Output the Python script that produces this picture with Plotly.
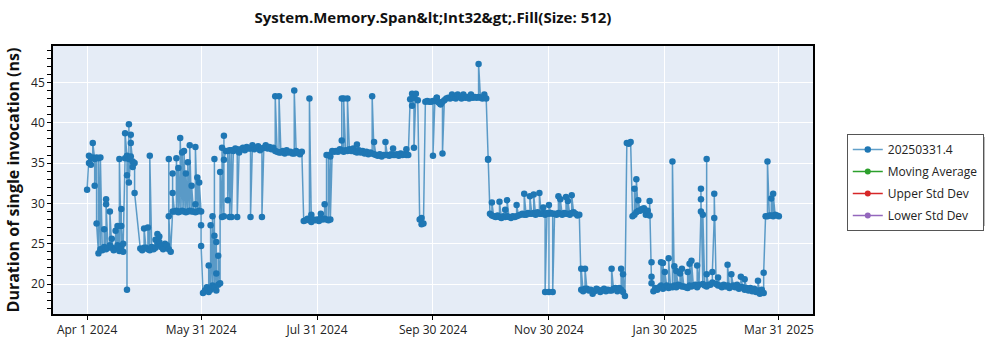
import pandas as pd
import plotly.graph_objects as go

# Daily baseline measurement, Apr 1 2024 .. Mar 31 2025 (None = no run that day)
start_date = "2024-04-01"
base_ns = [
    31.7, 35.9, 35.6, 35.7, 35.5, 35.7, 23.8, 24.3, 24.2, 24.6,
    24.3, 24.5, 24.8, 24.5, 24.2, 24.4, 24.8, 24.1, 24.6, 24.0,
    35.6, 35.9, 35.5, 35.8, 35.2, 35.0, None, None, 24.4, 24.2,
    24.5, 24.5, 24.3, 24.2, 24.6, 24.3, 24.5, 25.0, 25.2, 24.6,
    24.3, 25.0, 24.8, 24.3, 24.0, 29.0, 29.0, 29.1, 28.9, 29.0,
    29.1, 29.0, 28.9, 29.0, 29.1, 29.0, 29.0, 28.9, 29.0, 29.1,
    29.0, 18.9, 19.2, 19.6, 19.0, 19.3, 19.8, 19.5, 19.2, 19.9,
    20.1, 28.3, 28.4, 36.5, 36.5, 36.6, 36.6, 36.5, 36.8, 36.7,
    36.3, 36.7, 36.9, 36.6, 37.0, 36.8, 36.8, 37.2, 36.7, 36.9,
    37.1, 36.6, 36.8, 36.9, 37.2, 36.8, 37.0, 36.7, 36.9, 36.5,
    36.4, 36.3, 36.3, 36.5, 36.2, 36.6, 36.3, 36.4, 36.2, 36.2,
    36.5, 36.3, 36.1, 36.4, 27.8, 27.9, 28.1, 27.9, 27.7, 28.0,
    27.9, 28.0, 27.8, 28.2, 28.0, 28.1, 28.0, 36.0, 35.8, 36.5,
    36.4, 36.5, 36.4, 36.7, 36.6, 36.4, 36.6, 36.5, 36.7, 36.5,
    36.8, 36.4, 36.3, 36.6, 36.3, 36.5, 36.2, 36.4, 36.1, 36.3,
    36.2, 36.1, 36.0, 35.9, 36.1, 35.8, 36.0, 36.0, 36.0, 35.9,
    36.1, 36.0, 36.0, 36.1, 35.9, 36.2, 36.0, 36.1, 36.0, 36.0,
    42.9, 43.6, 43.1, 43.6, 42.8, 28.0, 27.4, 27.5, 42.6, 42.7,
    42.6, 42.6, 42.7, 42.7, 43.1, 42.5, 42.3, 42.6, 42.8, 43.0,
    43.1, 43.0, 43.2, 43.1, 43.0, 43.3, 43.2, 43.0, 43.2, 43.1,
    43.2, 43.0, 43.3, 43.1, 43.2, 43.1, 43.2, 43.1, 43.0, 43.2,
    43.0, 35.5, 28.7, 28.5, 28.4, 28.3, 28.5, 28.3, 28.2, 28.4,
    28.3, 28.4, 28.3, 28.2, 28.4, 28.3, 28.4, 28.5, 28.6, 28.7,
    28.6, 28.6, 28.8, 28.7, 28.7, 28.8, 28.6, 28.9, 28.7, 28.7,
    28.8, 28.6, 28.8, 28.7, 28.8, 28.7, 28.7, 28.6, 28.8, 28.7,
    28.6, 28.8, 28.7, 28.7, 28.6, 28.8, 28.9, 28.7, 28.5, 28.6,
    19.3, 19.1, 19.4, 19.4, 19.2, 19.3, 18.8, 19.1, 19.4, 19.3,
    19.0, 19.2, 19.4, 19.1, 19.3, 19.2, 19.2, 19.4, 19.5, 19.1,
    19.5, 19.3, 19.0, 18.5, 37.5, 37.4, 37.6, 28.4, 28.6, 28.9,
    29.1, 29.1, 29.3, 29.4, 28.6, 29.1, 28.5, 20.1, 19.1, 19.5,
    19.3, 19.6, 19.8, 19.4, 19.6, 19.8, 19.5, 19.7, 19.6, 19.8,
    19.6, 19.9, 19.8, 19.7, 19.7, 19.6, 19.5, 19.8, 19.7, 19.8,
    19.9, 19.6, 19.9, 29.0, 20.0, 19.8, 19.7, 19.9, 19.9, 20.2,
    28.2, 20.0, 19.8, 19.8, 19.6, 19.9, 19.7, 19.8, 19.5, 19.7,
    19.8, 19.6, 19.9, 19.4, 19.6, 19.6, 19.3, 19.5, 19.2, 19.5,
    19.1, 19.4, 19.0, 19.2, 18.8, 19.3, 18.9, 28.4, 28.4, 28.5,
    28.5, 28.4, 28.6, 28.5, 28.4,
]

# Extra runs on the same day (day offset from start_date, duration in ns)
extra_day = [
    1, 2, 3, 4, 5, 6, 7, 9, 10, 10, 12, 13, 15, 16, 17, 18, 18, 19,
    20, 21, 21, 22, 22, 23, 23, 24, 25,
    30, 32, 33, 36, 37, 38, 43, 43,
    45, 45, 47, 48, 49, 50, 51, 52, 53, 54, 55, 57, 57, 58, 59, 60, 60,
    64, 65, 66, 67, 67, 68, 68, 69, 70, 71, 72, 72,
    74, 75, 76, 79, 86, 92, 99, 101, 109,
    117, 118, 123, 125, 126, 127, 128,
    134, 134, 135, 137, 142, 150, 151, 157, 161, 168,
    171, 172, 176, 182, 184, 186, 187,
    192, 195, 198, 202, 206, 209, 211,
    213, 217, 220, 221, 226, 230, 233, 235, 238, 240, 241, 243, 243, 245,
    248, 249, 252, 253, 255,
    260, 262, 276, 281, 282,
    288, 289, 290, 294, 296,
    297, 297, 302, 303, 304, 306, 308, 309, 310, 312, 313, 316, 317, 318,
    321, 323, 323, 324, 326, 326, 329, 330, 332,
    337, 339, 344, 346, 353, 356,
    358, 360, 361,
]
extra_ns = [
    35.0, 34.8, 37.5, 32.2, 27.5, 35.6, 35.7, 26.8, 30.5, 29.9, 29.0, 25.6, 26.6, 27.2, 35.5, 29.3, 27.2, 25.0,
    38.7, 19.3, 33.5, 39.8, 32.6, 38.5, 37.5, 34.5, 31.3,
    26.9, 27.0, 35.9, 25.5, 26.2, 25.9, 35.5, 28.4,
    33.7, 31.3, 35.6, 34.4, 38.1, 36.3, 36.5, 33.7, 35.1, 37.2, 32.2, 29.9, 37.0, 33.2, 32.6, 27.3, 24.7,
    22.3, 27.3, 28.4, 35.5, 26.0, 25.2, 21.3, 23.5, 33.9, 36.9, 38.4, 35.4,
    30.4, 28.3, 28.3, 28.3, 28.3, 28.3, 43.3, 43.3, 44.0,
    43.0, 28.6, 28.7, 29.9, 36.0, 27.9, 28.0,
    43.0, 37.8, 43.0, 43.0, 37.3, 43.3, 37.6, 37.6, 36.8, 36.7,
    42.1, 36.9, 28.2, 35.9, 43.1, 42.3, 36.2,
    43.5, 43.5, 43.5, 43.5, 47.3, 43.5, 35.4,
    30.1, 30.2, 29.2, 30.4, 29.8, 31.2, 30.9, 31.1, 31.3, 29.5, 19.0, 19.0, 29.8, 19.0,
    30.9, 30.5, 30.8, 30.3, 31.0,
    21.9, 21.9, 21.9, 21.9, 21.2,
    31.8, 33.0, 30.4, 29.1, 30.3,
    22.7, 20.9, 22.7, 22.6, 21.5, 23.2, 35.2, 22.2, 21.6, 21.3, 21.9, 21.5, 22.5, 22.9,
    22.3, 31.8, 30.5, 28.6, 35.5, 21.2, 21.5, 31.2, 20.8,
    22.4, 21.2, 20.9, 20.6, 20.4, 21.4,
    35.2, 30.6, 31.2,
]

series_name = "20250331.4"
extra_series = ["Moving Average", "Upper Std Dev", "Lower Std Dev"]
extra_colors = ["#2ca02c", "#d62728", "#9467bd"]

tick_dates = ["2024-04-01", "2024-05-31", "2024-07-31", "2024-09-30",
              "2024-11-30", "2025-01-30", "2025-03-31"]
tick_labels = ["Apr 1 2024", "May 31 2024", "Jul 31 2024", "Sep 30 2024",
               "Nov 30 2024", "Jan 30 2025", "Mar 31 2025"]

# Assemble the run sequence in time order: each day's baseline, then its extra runs
days = pd.date_range(start_date, periods=len(base_ns), freq="D")
xs, ys = [], []
for i, day in enumerate(days):
    if base_ns[i] is not None:
        xs.append(day)
        ys.append(base_ns[i])
    for d, v in zip(extra_day, extra_ns):
        if d == i:
            xs.append(day)
            ys.append(v)

FONT = "Segoe UI, Open Sans, sans-serif"
BLUE = "#1f77b4"

fig = go.Figure()
fig.add_trace(go.Scatter(
    x=xs, y=ys, name=series_name, mode="lines+markers", legendgroup="g0",
    line=dict(color="rgba(31,119,180,0.7)", width=1.5),
    marker=dict(color=BLUE, size=6.5),
))
for name, color in zip(extra_series, extra_colors):
    fig.add_trace(go.Scatter(
        x=[None], y=[None], name=name, mode="lines+markers", legendgroup=name,
        line=dict(color=color, width=1.5), marker=dict(color=color, size=6),
    ))

L, R, T, B = 48, 187, 46, 30
W, H = 1000, 350
pw, ph = W - L - R, H - T - B


def px_x(x):
    return (x - L) / pw


def px_y(y):
    return (H - B - y) / ph


# legend drop shadow
fig.add_shape(type="rect", xref="paper", yref="paper", layer="above",
              x0=px_x(850), x1=px_x(986), y0=px_y(230), y1=px_y(139),
              fillcolor="rgba(120,120,120,0.6)", line=dict(width=0))

fig.update_layout(
    width=W, height=H,
    margin=dict(l=L, r=R, t=T, b=B),
    paper_bgcolor="white", plot_bgcolor="#E5ECF6",
    font=dict(family=FONT, size=12, color="#222"),
    title=dict(text="<b>System.Memory.Span&amp;lt;Int32&amp;gt;.Fill(Size: 512)</b>",
               x=0.5, xref="paper", xanchor="center",
               y=1 - 18 / H, yref="container", yanchor="middle",
               font=dict(family=FONT, size=15, color="#111")),
    showlegend=True,
    legend=dict(x=px_x(847), y=px_y(136), xanchor="left", yanchor="top",
                bgcolor="white", bordercolor="#555", borderwidth=1,
                traceorder="grouped", tracegroupgap=3,
                font=dict(family=FONT, size=12, color="#222")),
)

fig.update_xaxes(
    range=["2024-03-14 01:40", "2025-04-17 23:00"],
    tickmode="array", tickvals=tick_dates, ticktext=tick_labels,
    showgrid=True, gridcolor="white", gridwidth=1,
    showline=True, linecolor="black", linewidth=1.5, mirror=True,
    ticks="outside", ticklen=4, tickcolor="black",
    zeroline=False,
)
fig.update_yaxes(
    range=[16.28, 49.52], dtick=5, tick0=0,
    showgrid=True, gridcolor="white", gridwidth=1,
    showline=True, linecolor="black", linewidth=1.5, mirror=True,
    ticks="outside", ticklen=4, tickcolor="black",
    minor=dict(dtick=1, ticks="outside", ticklen=4, tickcolor="black", showgrid=False),
    zeroline=False,
    title=dict(text="<b>Duration of single invocation (ns)</b>",
               font=dict(family=FONT, size=16, color="#111"), standoff=8),
)

fig.write_html("out.html")
